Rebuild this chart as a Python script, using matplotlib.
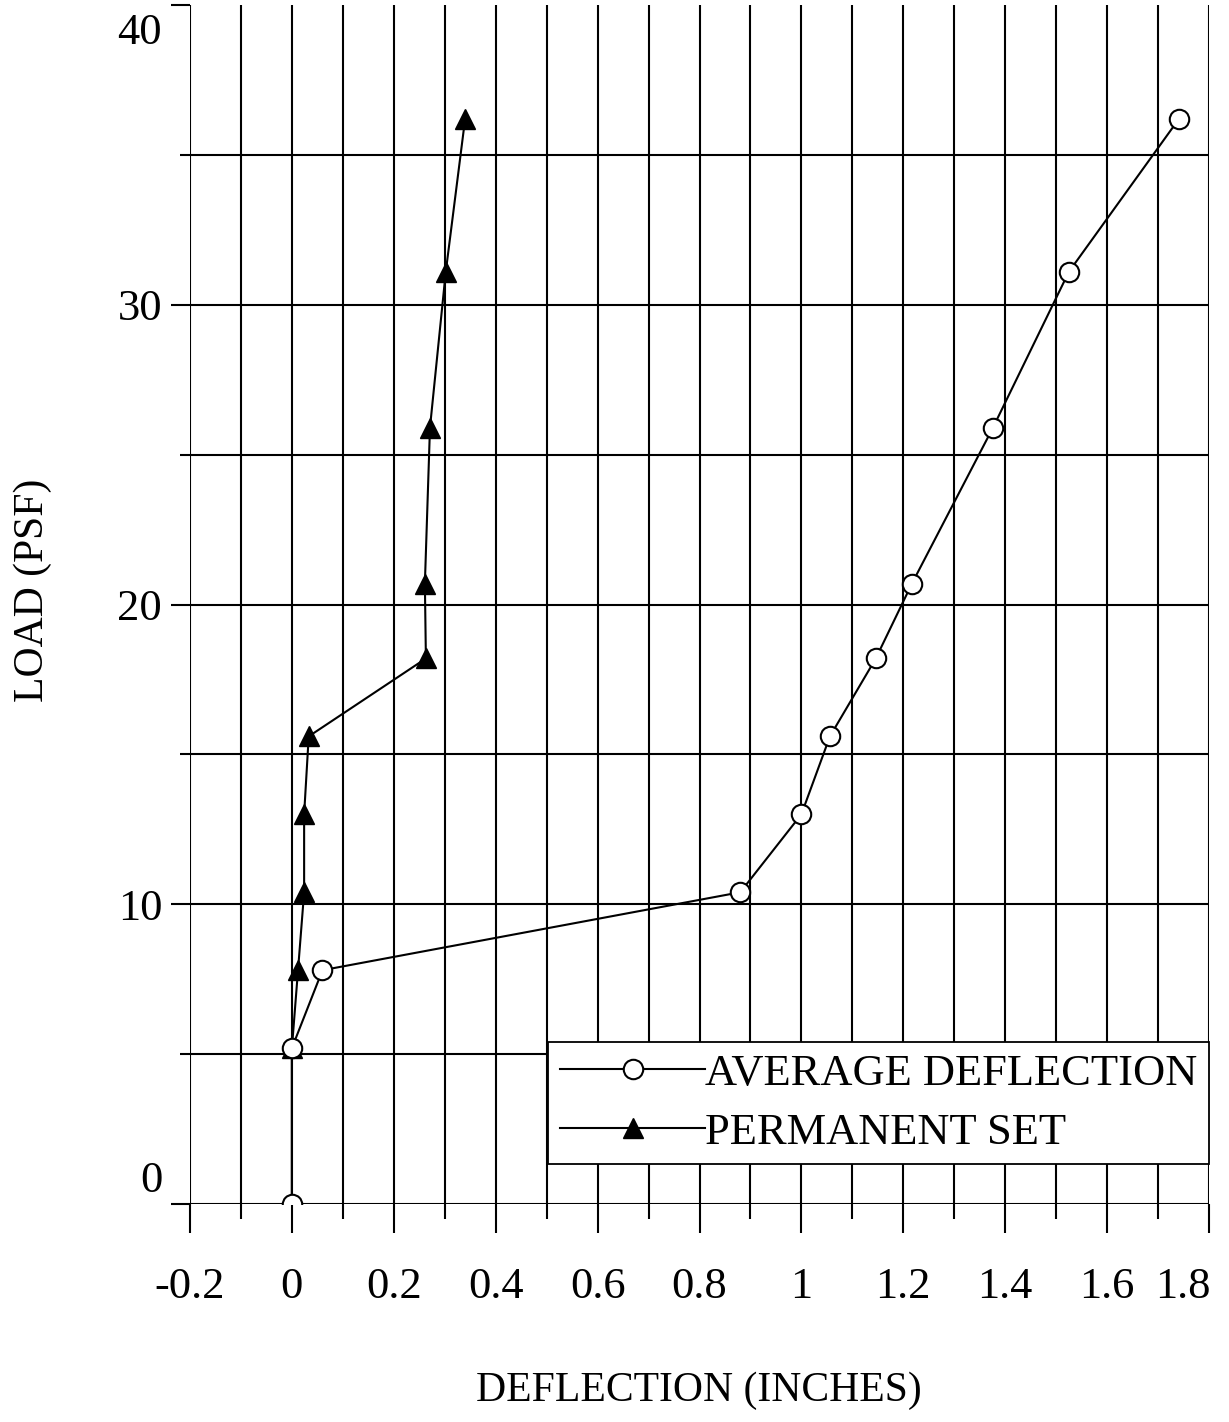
"""Load vs deflection test plot (average deflection and permanent set)"""
import numpy as np
import matplotlib
matplotlib.use('Agg')
import matplotlib.pyplot as plt
from matplotlib.ticker import MultipleLocator
from matplotlib.transforms import ScaledTranslation

plt.rcParams['font.family'] = ['Liberation Serif', 'DejaVu Serif']

# data
avg_defl = [0.0, 0.0, 0.06, 0.88, 1.0, 1.056, 1.146, 1.217, 1.376, 1.525, 1.741]
avg_load = [0.0, 5.2, 7.8, 10.4, 13.0, 15.6, 18.2, 20.7, 25.9, 31.1, 36.2]
perm_set = [0.0, 0.0, 0.012, 0.024, 0.024, 0.033, 0.263, 0.261, 0.271, 0.302, 0.34]
perm_load = [0.0, 5.2, 7.8, 10.4, 13.0, 15.6, 18.2, 20.7, 25.9, 31.1, 36.2]

x_ticks = np.arange(-0.2, 1.81, 0.2)
x_labels = ['-0.2', '0', '0.2', '0.4', '0.6', '0.8', '1', '1.2', '1.4', '1.6', '1.8']
y_ticks = [0, 10, 20, 30, 40]
y_labels = ['0', '10', '20', '30', '40']

fig = plt.figure(figsize=(12.29, 14.22), dpi=100)
ax = fig.add_axes([190/1229, 1 - 1204/1422, 1019/1229, 1199/1422])

ax.plot(perm_set, perm_load, '-^', color='black', lw=1.5, ms=15,
        mfc='black', mec='black', label='PERMANENT SET', zorder=3)
ax.plot(avg_defl, avg_load, '-o', color='black', lw=1.5, ms=14,
        mfc='white', mec='black', mew=1.5, label='AVERAGE DEFLECTION', zorder=4)

ax.set_xlim(-0.2, 1.8)
ax.set_ylim(0, 40)
ax.set_xticks(x_ticks)
ax.set_xticklabels(x_labels)
ax.set_yticks(y_ticks)
ax.set_yticklabels(y_labels)
ax.xaxis.set_minor_locator(MultipleLocator(0.1))
ax.yaxis.set_minor_locator(MultipleLocator(5))

ax.grid(True, which='both', color='black', lw=1.5)
ax.set_axisbelow(True)
for s in ax.spines.values():
    s.set_visible(False)
# the top (40) grid line is missing on the scan, only the tick shows
ax.yaxis.get_major_ticks()[-1].gridline.set_visible(False)

ax.tick_params(axis='x', which='major', length=21, width=1.5, pad=24, labelsize=32)
ax.tick_params(axis='x', which='minor', length=11, width=1.5)
ax.tick_params(axis='y', which='major', length=14, width=1.5, pad=6, labelsize=32)
ax.tick_params(axis='y', which='minor', length=7, width=1.5)

# end labels were nudged inward on the original
lbls = ax.get_yticklabels()
lbls[0].set_transform(lbls[0].get_transform() + ScaledTranslation(0, 20/72, fig.dpi_scale_trans))
lbls[-1].set_transform(lbls[-1].get_transform() + ScaledTranslation(0, -17/72, fig.dpi_scale_trans))
xl = ax.get_xticklabels()
xl[-1].set_transform(xl[-1].get_transform() + ScaledTranslation(-19/72, 0, fig.dpi_scale_trans))

h, l = ax.get_legend_handles_labels()
leg = ax.legend(h[::-1], l[::-1], loc='lower right', bbox_to_anchor=(1.0, 0.033),
                borderaxespad=0, fontsize=32, handlelength=3.27, handletextpad=0.0,
                labelspacing=0.43, borderpad=0.26, fancybox=False, framealpha=1,
                edgecolor='black')
leg.get_frame().set_linewidth(1.3)

fig.text(699/1229, 1 - 1401/1422, 'DEFLECTION (INCHES)', fontsize=30,
         ha='center', va='baseline')
fig.text(33/1229, 1 - 590/1422, 'LOAD (PSF)', fontsize=30, rotation=90,
         ha='center', va='center')

fig.savefig('out.png', dpi=100)
